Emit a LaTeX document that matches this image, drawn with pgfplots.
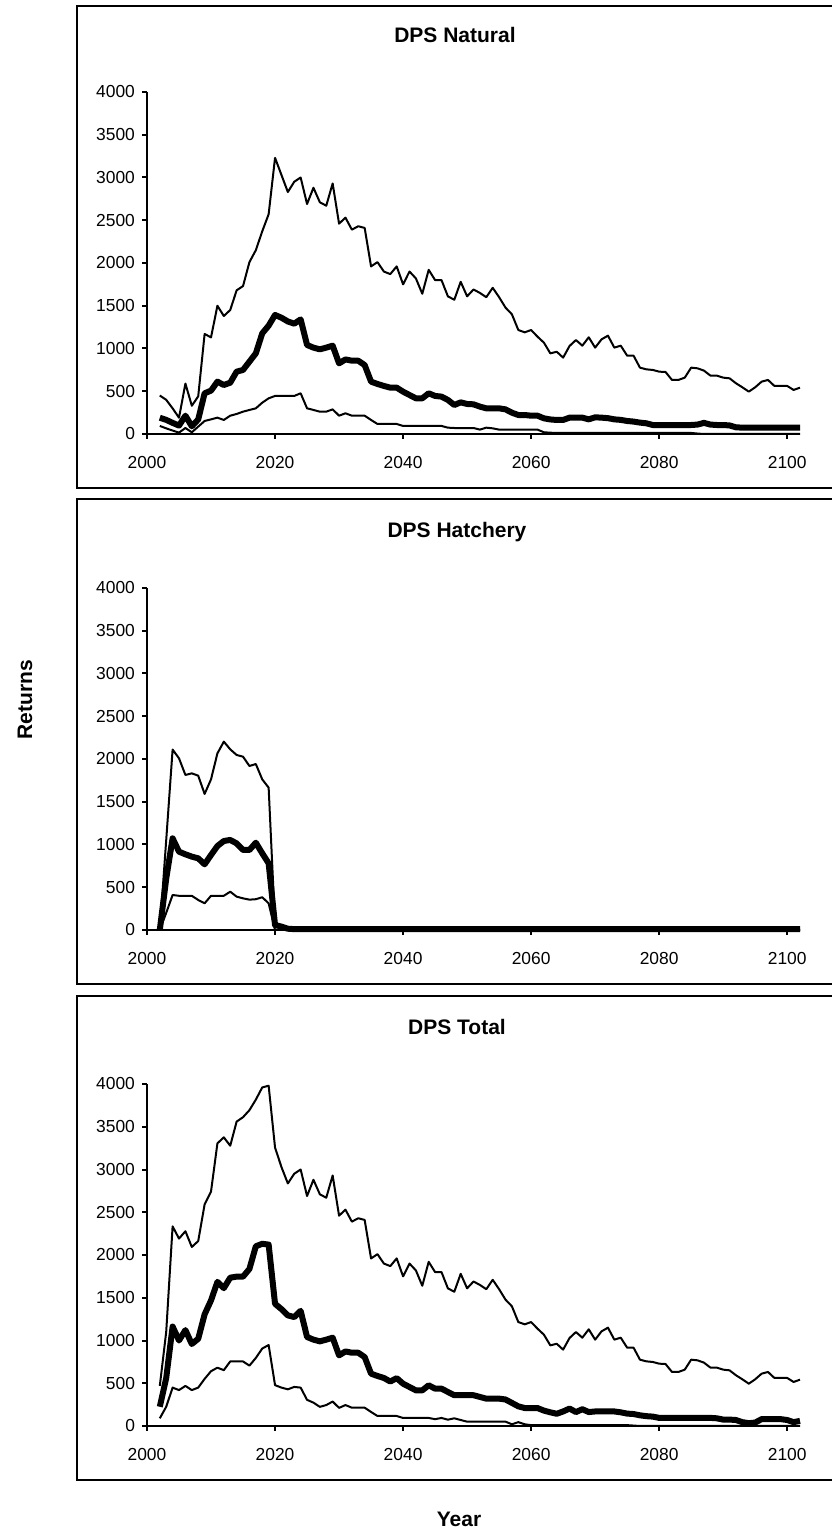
\documentclass[border=0pt]{standalone}
\usepackage{fontspec}
\setmainfont{Liberation Sans}
\usepackage{pgfplots}
\usepackage{pgfplotstable}
\pgfplotsset{compat=1.18}

% year  lower  median  upper
\pgfplotstableread{
year lo mid hi
2002 94 190 450
2003 66 165 400
2004 40 130 300
2005 16 98 190
2006 70 214 590
2007 20 90 330
2008 86 170 440
2009 152 476 1170
2010 171 507 1130
2011 191 612 1500
2012 164 573 1380
2013 214 600 1450
2014 234 729 1680
2015 261 749 1730
2016 281 846 2010
2017 300 943 2150
2018 366 1177 2370
2019 417 1267 2570
2020 445 1392 3230
2021 445 1360 3030
2022 445 1316 2830
2023 445 1290 2950
2024 476 1340 3000
2025 300 1041 2690
2026 281 1010 2880
2027 261 990 2710
2028 261 1010 2670
2029 288 1033 2930
2030 214 826 2460
2031 242 872 2530
2032 214 857 2390
2033 214 857 2430
2034 214 806 2410
2035 164 612 1960
2036 117 585 2010
2037 117 562 1900
2038 117 542 1870
2039 117 542 1960
2040 94 495 1750
2041 94 456 1900
2042 94 417 1820
2043 94 417 1640
2044 94 476 1920
2045 94 445 1800
2046 94 437 1800
2047 74 398 1610
2048 70 339 1570
2049 70 370 1780
2050 70 351 1610
2051 70 347 1690
2052 51 320 1650
2053 74 300 1600
2054 66 300 1710
2055 51 300 1600
2056 51 288 1478
2057 51 249 1400
2058 51 222 1216
2059 51 222 1189
2060 51 214 1216
2061 51 214 1138
2062 20 183 1068
2063 15 170 943
2064 12 164 962
2065 12 164 893
2066 12 191 1029
2067 12 191 1099
2068 12 191 1033
2069 12 171 1131
2070 12 195 1010
2071 12 191 1107
2072 12 185 1150
2073 12 171 1010
2074 12 165 1033
2075 12 152 916
2076 12 145 916
2077 12 133 776
2078 12 125 756
2079 12 105 749
2080 12 105 729
2081 12 105 725
2082 12 105 632
2083 12 105 632
2084 12 105 659
2085 12 105 776
2086 5 110 768
2087 0 130 741
2088 0 110 683
2089 0 105 683
2090 0 105 659
2091 0 100 651
2092 0 78 593
2093 0 74 546
2094 0 74 495
2095 0 74 546
2096 0 74 612
2097 0 74 632
2098 0 74 562
2099 0 74 562
2100 0 74 562
2101 0 74 515
2102 0 74 542
}\natural

\pgfplotstableread{
year lo mid hi
2002 0 0 0
2003 200 600 1050
2004 409 1072 2110
2005 400 916 2008
2006 400 885 1813
2007 400 858 1832
2008 351 838 1805
2009 312 768 1591
2010 400 877 1762
2011 400 982 2066
2012 400 1041 2203
2013 448 1053 2113
2014 390 1013 2047
2015 370 936 2027
2016 355 936 1918
2017 360 1021 1941
2018 383 897 1762
2019 312 780 1665
2020 0 58 60
2021 0 40 30
2022 0 15 10
2023 0 10 0
2102 0 10 0
}\hatchery

\pgfplotstableread{
year lo mid hi
2002 90 225 469
2003 225 560 1100
2004 449 1163 2335
2005 420 1000 2192
2006 469 1122 2278
2007 420 959 2094
2008 449 1020 2163
2009 551 1306 2592
2010 641 1469 2743
2011 682 1686 3306
2012 653 1612 3376
2013 755 1735 3278
2014 755 1747 3560
2015 755 1747 3612
2016 706 1837 3694
2017 796 2102 3817
2018 906 2131 3960
2019 947 2122 3980
2020 478 1429 3257
2021 449 1367 3029
2022 429 1294 2837
2023 457 1274 2950
2024 449 1347 3000
2025 306 1041 2690
2026 273 1010 2880
2027 224 990 2710
2028 245 1010 2670
2029 286 1033 2930
2030 212 826 2460
2031 245 872 2530
2032 214 857 2390
2033 214 857 2430
2034 214 806 2410
2035 164 612 1960
2036 117 585 2010
2037 117 562 1900
2038 117 520 1870
2039 117 560 1960
2040 94 495 1750
2041 94 456 1900
2042 94 417 1820
2043 94 417 1640
2044 94 476 1920
2045 80 437 1800
2046 94 437 1800
2047 74 398 1610
2048 90 360 1570
2049 70 360 1780
2050 51 360 1610
2051 51 360 1690
2052 51 340 1650
2053 51 320 1600
2054 51 320 1710
2055 51 320 1600
2056 51 310 1478
2057 20 270 1400
2058 45 230 1216
2059 20 210 1189
2060 10 210 1216
2061 10 210 1138
2062 10 180 1068
2063 10 160 943
2064 10 143 962
2065 10 170 893
2066 10 204 1029
2067 10 163 1099
2068 10 196 1033
2069 10 163 1131
2070 10 170 1010
2071 10 170 1107
2072 10 170 1150
2073 10 170 1010
2074 10 160 1033
2075 10 145 916
2076 5 140 916
2077 0 125 776
2078 0 115 756
2079 0 110 749
2080 0 95 729
2081 0 95 725
2082 0 95 632
2083 0 95 632
2084 0 95 659
2085 0 95 776
2086 0 95 768
2087 0 95 741
2088 0 95 683
2089 0 90 683
2090 0 75 659
2091 0 75 651
2092 0 70 593
2093 0 45 546
2094 0 33 495
2095 0 40 546
2096 0 80 612
2097 0 80 632
2098 0 80 562
2099 0 80 562
2100 0 70 562
2101 0 45 515
2102 0 60 542
}\total

\pgfplotsset{
  dpspanel/.style={
    scale only axis, width=326.5pt, height=171pt,
    anchor=south west,
    xmin=2000, xmax=2102, ymin=0, ymax=4000,
    axis lines=left, axis line style={-, line width=1pt, black},
    xtick={2000,2020,2040,2060,2080,2100},
    ytick={0,500,1000,1500,2000,2500,3000,3500,4000},
    tick align=outside, major tick length=2.5pt,
    tick style={line width=1pt, black},
    tick label style={font=\fontsize{8.7}{10}\selectfont},
    xticklabel style={yshift=-5pt},
    /pgf/number format/assume math mode=true,
    /pgf/number format/set thousands separator={},
    clip=false,
  },
  band/.style={black, line width=1pt, line join=round, mark=none},
  centre/.style={black, line width=3pt, line join=round, mark=none},
}

\begin{document}
\begin{tikzpicture}
\path[use as bounding box] (0pt,0pt) rectangle (415.5pt,765.5pt);

% chart area frames
\draw[line width=1pt] (38.5pt,521.5pt) rectangle (440pt,762.5pt);
\draw[line width=1pt] (38.5pt,273.5pt) rectangle (440pt,516pt);
\draw[line width=1pt] (38.5pt,25.5pt) rectangle (440pt,267.5pt);

\node[font=\fontsize{10.5}{12}\selectfont\bfseries] at (227.5pt,748pt) {DPS Natural};
\node[font=\fontsize{10.5}{12}\selectfont\bfseries] at (228.5pt,499.5pt) {DPS Hatchery};
\node[font=\fontsize{10.5}{12}\selectfont\bfseries] at (228.5pt,252pt) {DPS Total};
\node[font=\fontsize{10.5}{12}\selectfont\bfseries, rotate=90] at (12.5pt,415.5pt) {Returns};
\node[font=\fontsize{10.5}{12}\selectfont\bfseries] at (229.5pt,6pt) {Year};

\begin{axis}[dpspanel, at={(73.5pt,548.5pt)}]
  \addplot[band] table[x=year,y=hi]{\natural};
  \addplot[band] table[x=year,y=lo]{\natural};
  \addplot[centre] table[x=year,y=mid]{\natural};
\end{axis}

\begin{axis}[dpspanel, at={(73.5pt,300.5pt)}]
  \addplot[band] table[x=year,y=hi]{\hatchery};
  \addplot[band] table[x=year,y=lo]{\hatchery};
  \addplot[centre] table[x=year,y=mid]{\hatchery};
\end{axis}

\begin{axis}[dpspanel, at={(73.5pt,52.5pt)}]
  \addplot[band] table[x=year,y=hi]{\total};
  \addplot[band] table[x=year,y=lo]{\total};
  \addplot[centre] table[x=year,y=mid]{\total};
\end{axis}
\end{tikzpicture}
\end{document}
